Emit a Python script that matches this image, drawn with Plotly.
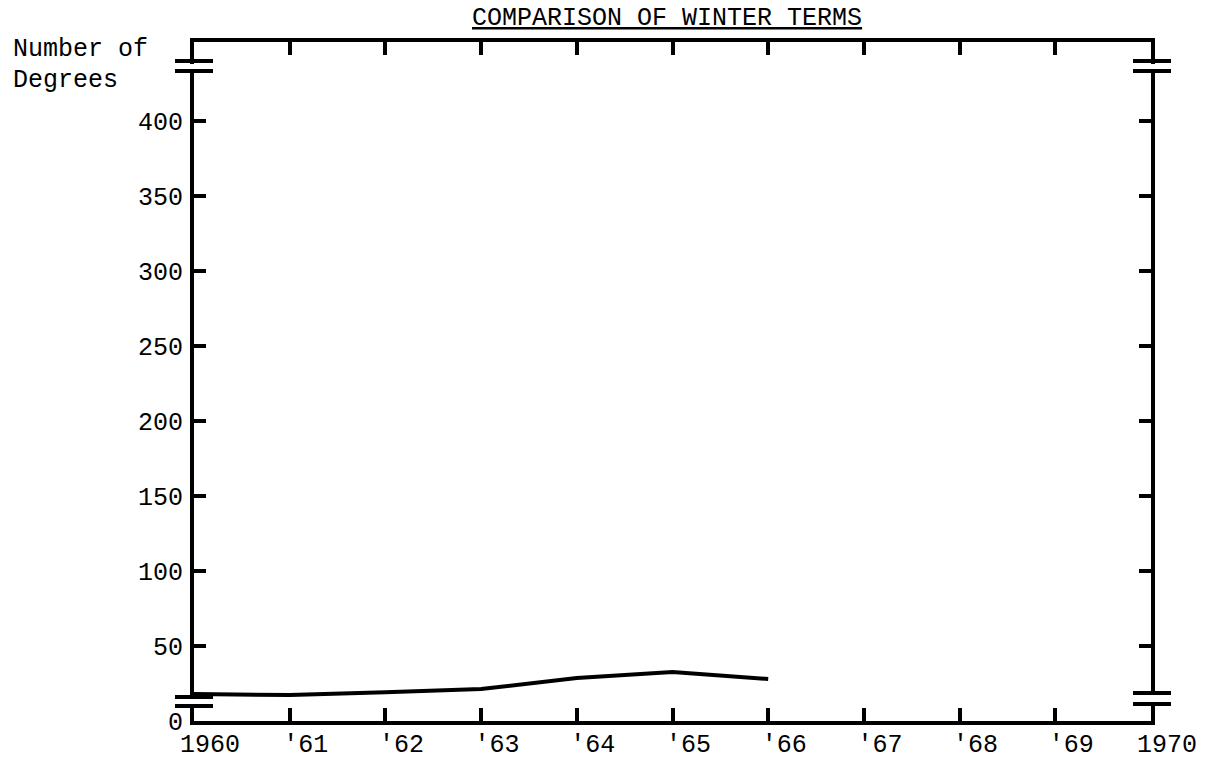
import plotly.graph_objects as go

# ---- data ----
years = [1960, 1961, 1962, 1963, 1964, 1965, 1966]
degrees = [18, 17.3, 19.1, 21.3, 28.6, 32.6, 28]

x_tick_vals = [1960, 1961, 1962, 1963, 1964, 1965, 1966, 1967, 1968, 1969, 1970]
x_tick_text = ["1960", "'61", "'62", "'63", "'64", "'65", "'66", "'67", "'68", "'69", "1970"]
y_tick_vals = [0, 50, 100, 150, 200, 250, 300, 350, 400]
y_tick_text = ["0", "50", "100", "150", "200", "250", "300", "350", "400"]

title_text = "COMPARISON OF WINTER TERMS"
y_label_lines = ["Number of", "Degrees"]

# ---- layout geometry (pixels) ----
W_FIG, H_FIG = 1212, 760
L, R, T, B = 194, 1151, 42, 721
PW, PH = R - L, B - T
FONT = "Liberation Mono"
FS = 25
BLACK = "#000000"


def px(xp):
    return (xp - L) / PW


def py(yp):
    return (B - yp) / PH


fig = go.Figure()
fig.add_trace(go.Scatter(
    x=years, y=degrees, mode="lines",
    line=dict(color=BLACK, width=4), showlegend=False, hoverinfo="skip"))

axis_common = dict(
    showline=True, linewidth=4, linecolor=BLACK, mirror="ticks",
    ticks="inside", tickwidth=4, tickcolor=BLACK,
    showgrid=False, zeroline=False, automargin=False,
    tickfont=dict(family=FONT, size=FS, color=BLACK),
)

fig.update_layout(
    width=W_FIG, height=H_FIG,
    margin=dict(l=L, r=W_FIG - R, t=T, b=H_FIG - B, pad=0),
    paper_bgcolor="white", plot_bgcolor="white",
    xaxis=dict(range=[1960, 1970], tickvals=x_tick_vals, ticktext=x_tick_text,
               ticklen=13, ticklabelshift=16, ticklabelstandoff=-3, **axis_common),
    yaxis=dict(range=[0, 452.5], tickvals=y_tick_vals, ticktext=y_tick_text,
               ticklen=12, ticklabelstandoff=2, **axis_common),
)

shapes = []
# axis breaks: white gaps then double bars
gaps = [  # (x_center_px, y_top_px, y_bot_px)
    (L - 2, 64, 69), (R + 2, 64, 69),
    (L - 2, 699, 704), (R + 2, 695, 702),
]
for xc, yt, yb in gaps:
    shapes.append(dict(type="rect", xref="paper", yref="paper", layer="above",
                       x0=px(xc - 8), x1=px(xc + 8), y0=py(yb), y1=py(yt),
                       fillcolor="white", line=dict(width=0)))
bars = [  # (x0_px, x1_px, y_px)
    (175, 213, 61), (175, 213, 71),
    (175, 213, 697), (175, 213, 706),
    (1133, 1171, 61), (1133, 1171, 71),
    (1133, 1171, 693), (1133, 1171, 704),
]
for x0, x1, yy in bars:
    shapes.append(dict(type="line", xref="paper", yref="paper", layer="above",
                       x0=px(x0), x1=px(x1), y0=py(yy), y1=py(yy),
                       line=dict(color=BLACK, width=4)))
fig.update_layout(shapes=shapes)

annotations = [
    dict(text="<u>" + title_text + "</u>", xref="paper", yref="paper",
         x=px(667), y=py(19), xanchor="center", yanchor="middle", showarrow=False,
         font=dict(family=FONT, size=FS, color=BLACK)),
    dict(text=y_label_lines[0], xref="paper", yref="paper",
         x=px(11), y=py(50), xanchor="left", yanchor="middle", showarrow=False,
         font=dict(family=FONT, size=FS, color=BLACK)),
    dict(text=y_label_lines[1], xref="paper", yref="paper",
         x=px(11), y=py(80), xanchor="left", yanchor="middle", showarrow=False,
         font=dict(family=FONT, size=FS, color=BLACK)),
]
fig.update_layout(annotations=annotations)

fig.write_html("out.html", config={"displayModeBar": False},
               post_script="document.body.style.margin='0';")
